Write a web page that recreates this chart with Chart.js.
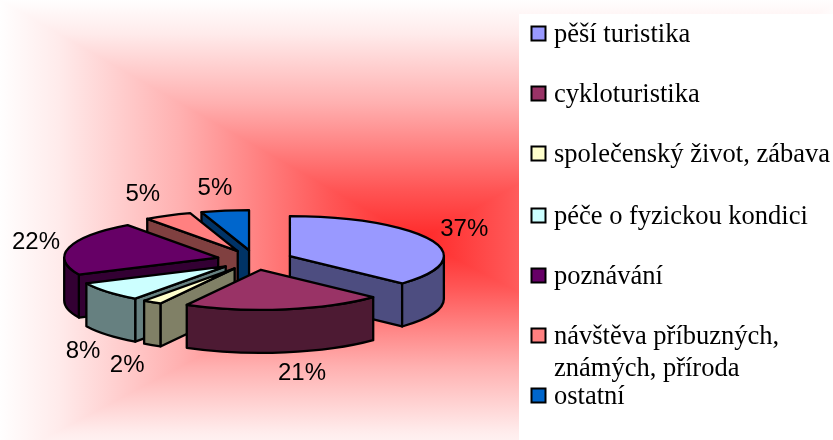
<!DOCTYPE html>
<html>
<head>
<meta charset="utf-8">
<title>Pie</title>
<script src="https://cdn.jsdelivr.net/npm/chart.js@4"></script>
<style>
    html, body { margin: 0; padding: 0; background: #fff; }
    canvas { display: block; }
</style>
</head>
<body>
<canvas id="pie" width="833" height="440"></canvas>
<script>
const categories = [
    'pěší turistika',
    'cykloturistika',
    'společenský život, zábava',
    'péče o fyzickou kondici',
    'poznávání',
    ['návštěva příbuzných,', 'známých, příroda'],
    'ostatní'
];
const shares = [37, 21, 2, 8, 22, 5, 5];
const topColors = ['#9999ff', '#993366', '#ffffcc', '#ccffff', '#660066', '#ff8080', '#0066cc'];
const sideColors = ['#4d4d80', '#4d1a33', '#808066', '#668080', '#330033', '#804040', '#003366'];

// pie look
const squash = 0.26;
const depth = 43;
const explode = 38;
const pieRadius = 154;
const drawOrder = [6, 5, 4, 3, 2, 0, 1];
const labelNudge = [[33, -11], [17, 64], [-25, 63], [-24, 60], [-33, -5], [-25, -21], [-10, -22]];
const legendRows = [33.5, 93.5, 153.5, 215.5, 275.5, 335.5, 395.5];

function paintBackground(ctx) {
    const cx = 420, cy = 240, right = 840, bottom = 462;
    const ramp = [[0, 'rgb(255,40,40)'], [0.21, 'rgb(255,85,85)'], [0.57, 'rgb(255,176,176)'], [0.86, 'rgb(255,235,235)'], [1, 'rgb(255,254,254)']];
    const mirrored = (g) => {
        ramp.forEach(([t, c]) => {
            g.addColorStop(0.5 - t / 2, c);
            g.addColorStop(0.5 + t / 2, c);
        });
        return g;
    };
    ctx.save();
    ctx.fillStyle = mirrored(ctx.createLinearGradient(0, 0, right, 0));
    ctx.fillRect(0, 0, 833, 440);

    ctx.beginPath();
    ctx.moveTo(0, 0);
    ctx.lineTo(right, 0);
    ctx.lineTo(cx, cy);
    ctx.closePath();
    ctx.moveTo(0, bottom);
    ctx.lineTo(right, bottom);
    ctx.lineTo(cx, cy);
    ctx.closePath();
    ctx.clip();
    const vertical = ctx.createLinearGradient(0, cy - 240, 0, cy + 240);
    ramp.forEach(([t, c]) => {
        vertical.addColorStop(0.5 - t / 2, c);
        vertical.addColorStop(Math.min(1, 0.5 + (t * 222 / 240) / 2), c);
    });
    ctx.fillStyle = vertical;
    ctx.fillRect(0, 0, 833, 440);
    ctx.restore();

    // legend panel
    ctx.fillStyle = '#fff';
    ctx.fillRect(519, 14, 314, 426);
}

function sliceGeometry(arc) {
    const mid = (arc.startAngle + arc.endAngle) / 2;
    return {
        mid,
        x: arc.x + Math.cos(mid) * explode,
        y: arc.y + Math.sin(mid) * explode * squash,
        rx: arc.outerRadius,
        ry: arc.outerRadius * squash
    };
}

function drawWall(ctx, g, angle, color) {
    const px = g.x + Math.cos(angle) * g.rx;
    const py = g.y + Math.sin(angle) * g.ry;
    ctx.beginPath();
    ctx.moveTo(g.x, g.y);
    ctx.lineTo(px, py);
    ctx.lineTo(px, py + depth);
    ctx.lineTo(g.x, g.y + depth);
    ctx.closePath();
    ctx.fillStyle = color;
    ctx.fill();
    ctx.stroke();
}

function drawSides(ctx, arc, g, color) {
    if (Math.cos(arc.startAngle) < 0) drawWall(ctx, g, arc.startAngle, color);
    if (Math.cos(arc.endAngle) > 0) drawWall(ctx, g, arc.endAngle, color);

    // rim, only the part that faces the viewer
    const from = Math.max(arc.startAngle, 0);
    const to = Math.min(arc.endAngle, Math.PI);
    if (to > from) {
        ctx.beginPath();
        ctx.ellipse(g.x, g.y, g.rx, g.ry, 0, from, to);
        ctx.lineTo(g.x + Math.cos(to) * g.rx, g.y + Math.sin(to) * g.ry + depth);
        ctx.ellipse(g.x, g.y + depth, g.rx, g.ry, 0, to, from, true);
        ctx.closePath();
        ctx.fillStyle = color;
        ctx.fill();
        ctx.stroke();
    }
}

const pie3d = {
    id: 'pie3d',
    beforeDraw(chart) {
        paintBackground(chart.ctx);
    },
    beforeDatasetsDraw(chart) {
        const ctx = chart.ctx;
        const arcs = chart.getDatasetMeta(0).data;
        ctx.save();
        ctx.lineWidth = 2.3;
        ctx.strokeStyle = '#000';
        ctx.lineJoin = 'round';
        drawOrder.forEach((i) => {
            const arc = arcs[i];
            const g = sliceGeometry(arc);
            drawSides(ctx, arc, g, sideColors[i]);

            // top face is the library's own arc, flattened and moved out
            ctx.save();
            ctx.translate(g.x, g.y);
            ctx.scale(1, squash);
            ctx.translate(-arc.x, -arc.y);
            arc.draw(ctx, chart.chartArea);
            ctx.restore();

            ctx.beginPath();
            ctx.moveTo(g.x, g.y);
            ctx.ellipse(g.x, g.y, g.rx, g.ry, 0, arc.startAngle, arc.endAngle);
            ctx.closePath();
            ctx.stroke();
        });
        ctx.restore();
        return false;
    },
    afterDraw(chart) {
        const ctx = chart.ctx;
        const arcs = chart.getDatasetMeta(0).data;
        ctx.save();
        ctx.fillStyle = '#000';
        ctx.font = '24px "Liberation Sans"';
        ctx.textAlign = 'center';
        ctx.textBaseline = 'middle';
        arcs.forEach((arc, i) => {
            const g = sliceGeometry(arc);
            const lx = g.x + Math.cos(g.mid) * g.rx + labelNudge[i][0];
            const ly = g.y + Math.sin(g.mid) * g.ry + labelNudge[i][1];
            ctx.fillText(shares[i] + '%', lx, ly);
        });

        // legend
        ctx.textAlign = 'left';
        ctx.textBaseline = 'alphabetic';
        ctx.font = '26.5px "Liberation Serif"';
        ctx.lineWidth = 2;
        ctx.strokeStyle = '#000';
        categories.forEach((name, i) => {
            const y = legendRows[i];
            ctx.fillStyle = topColors[i];
            ctx.fillRect(531.5, y - 7, 14, 14);
            ctx.strokeRect(531.5, y - 7, 14, 14);
            ctx.fillStyle = '#000';
            [].concat(name).forEach((line, n) => {
                ctx.fillText(line, 554, y + 8 + n * 32);
            });
        });
        ctx.restore();
    }
};

new Chart(document.getElementById('pie'), {
    type: 'pie',
    data: {
        labels: categories,
        datasets: [{
            data: shares,
            backgroundColor: topColors,
            borderWidth: 0
        }]
    },
    options: {
        responsive: false,
        animation: false,
        radius: pieRadius,
        layout: { padding: { top: 80, right: 323 } },
        plugins: {
            legend: { display: false },
            tooltip: { enabled: false }
        }
    },
    plugins: [pie3d]
});
</script>
</body>
</html>
